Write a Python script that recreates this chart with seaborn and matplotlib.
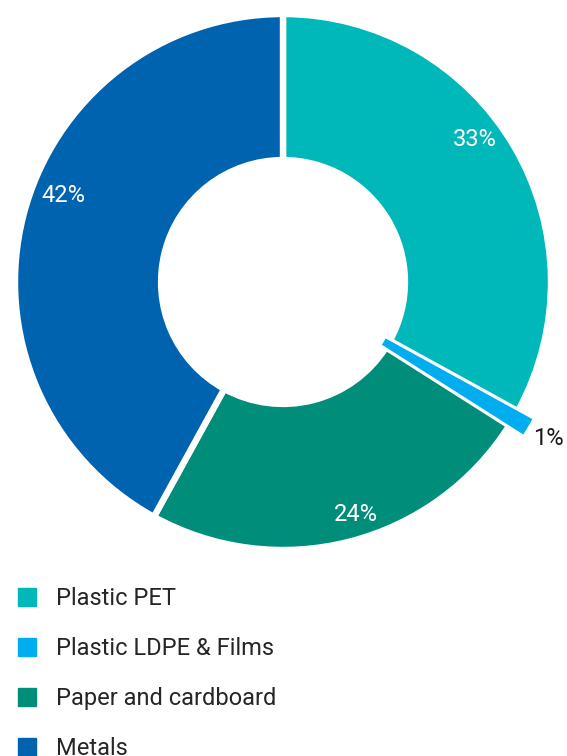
import matplotlib
matplotlib.use("Agg")
import matplotlib.pyplot as plt
from matplotlib.lines import Line2D
import numpy as np
import seaborn as sns

# Share of collected packaging waste by material
categories = ["Plastic PET", "Plastic LDPE & Films", "Paper and cardboard", "Metals"]
shares = [33, 1, 24, 42]
palette_hex = ["#00B8B9", "#00AEEF", "#008E7B", "#0063AF"]

sns.set_theme(style="white")
plt.rcParams["font.family"] = ["Roboto", "DejaVu Sans"]

colors = sns.color_palette(palette_hex)

fig = plt.figure(figsize=(5.67, 7.56), dpi=100)
ax = fig.add_axes([15 / 567, 1 - 550 / 756, 536 / 567, 536 / 756])

wedges, _ = ax.pie(
    shares,
    colors=colors,
    startangle=90,
    counterclock=False,
    radius=1.0,
    wedgeprops=dict(width=0.545, edgecolor="white", linewidth=4.6),
)

# The small LDPE segment is drawn as a slightly wider ring, on top of its neighbours
small = wedges[1]
small.set_radius(1.062)
small.set_width(0.625)
small.set_linewidth(0.0)
small.set_zorder(3)

ax.set_xlim(-1, 1)
ax.set_ylim(-1, 1)
ax.set_aspect("equal")
ax.axis("off")
for w in wedges:
    w.set_clip_on(False)

# Percentage labels
label_shift = [6, 0, 3, -7]      # degrees, nudges along the ring
label_radius = [0.89, 1.15, 0.91, 0.88]
label_color = ["white", "#1a1a1a", "white", "white"]
for w, v, dth, r, c in zip(wedges, shares, label_shift, label_radius, label_color):
    mid = np.deg2rad((w.theta1 + w.theta2) / 2 + dth)
    ax.text(r * np.cos(mid), r * np.sin(mid), f"{v}%", ha="center", va="center",
            fontsize=17, color=c, clip_on=False, zorder=5)

handles = [Line2D([0], [0], marker="s", linestyle="none", markersize=13.5,
                  markerfacecolor=c, markeredgecolor=c) for c in colors]
fig.legend(handles, categories, loc="upper left",
           bbox_to_anchor=(6 / 567, 1 - 580 / 756),
           frameon=False, labelspacing=1.145, handletextpad=0.62,
           handlelength=1.2, borderaxespad=0.0, borderpad=0.3, labelcolor="#262626",
           prop=dict(size=17))

fig.savefig("out.png", dpi=100, facecolor="white")
